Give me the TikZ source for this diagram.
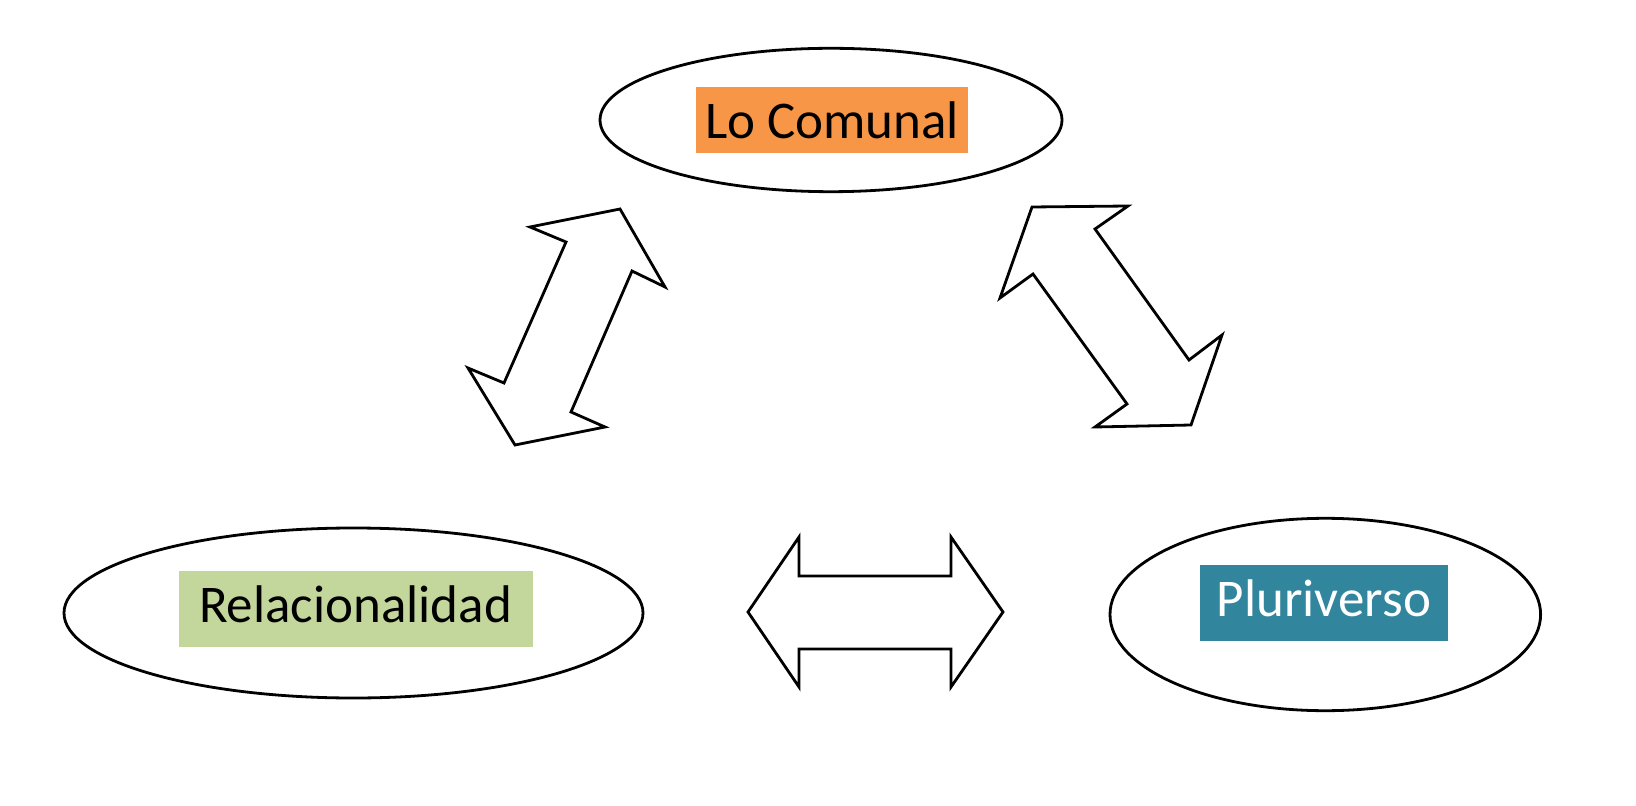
\documentclass[tikz,border=0pt]{standalone}
\usepackage{fontspec}
\setmainfont{Carlito}
\usetikzlibrary{shapes.geometric}
\definecolor{orangebox}{HTML}{F79646}
\definecolor{greenbox}{HTML}{C3D69B}
\definecolor{tealbox}{HTML}{31859C}
\tikzset{
  oval/.style={ellipse, draw=black, line width=1.4pt, inner sep=0pt},
  labelbox/.style={rectangle, inner sep=0pt, font=\fontsize{26.5}{30}\selectfont, text height=22.5pt},
  blockarrow/.style={draw=black, fill=white, line width=1.4pt, line join=miter}
}
\begin{document}
\begin{tikzpicture}[x=0.5pt, y=-0.5pt]
\useasboundingbox (0,0) rectangle (1636,806);
% ellipses
\node[oval, minimum width=462*0.5pt, minimum height=143.4*0.5pt] (top) at (831,120) {};
\node[oval, minimum width=579*0.5pt, minimum height=170*0.5pt] (left) at (353.5,613) {};
\node[oval, minimum width=430.6*0.5pt, minimum height=192.4*0.5pt] (right) at (1325.3,614.5) {};
% labels
\node[labelbox, fill=orangebox, minimum width=272*0.5pt, minimum height=65.4*0.5pt, text depth=3.5pt] (lcom) at (832,120) {Lo Comunal};
\node[labelbox, fill=greenbox, minimum width=354*0.5pt, minimum height=75.7*0.5pt, text depth=8.65pt] (lrel) at (355.5,608.8) {Relacionalidad};
\node[labelbox, fill=tealbox, text=white, minimum width=248*0.5pt, minimum height=75.7*0.5pt, text depth=8.65pt] (lplu) at (1324,602.9) {Pluriverso};
% left diagonal double arrow
\draw[blockarrow] (620,209) -- (530,227) -- (566,242) -- (504,383) -- (468,368)
  -- (515,445) -- (605,427) -- (571,412) -- (632,271) -- (665,287) -- cycle;
% right diagonal double arrow
\draw[blockarrow] (1032,207) -- (1128,206) -- (1095,229) -- (1189,360) -- (1222,335)
  -- (1191,425) -- (1095,427) -- (1127,404) -- (1033,274) -- (1000,298) -- cycle;
% horizontal double arrow
\draw[blockarrow] (748,612) -- (799,537) -- (799,576) -- (951,576) -- (951,537)
  -- (1003,612) -- (951,687) -- (951,649) -- (799,649) -- (799,687) -- cycle;
\end{tikzpicture}
\end{document}
